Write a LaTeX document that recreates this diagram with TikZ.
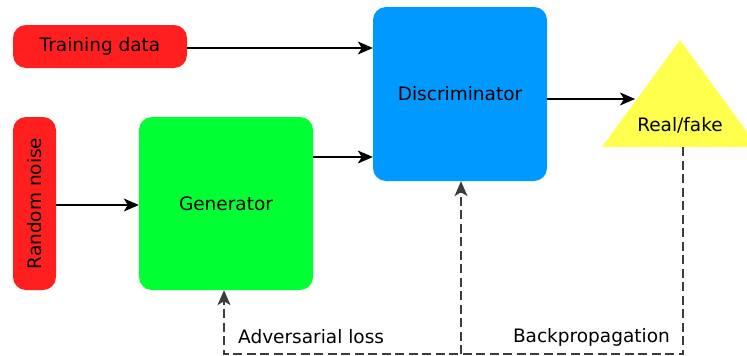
\documentclass[tikz,border=0pt]{standalone}
\usepackage{fontspec}
\setmainfont{DejaVu Sans}
\usetikzlibrary{arrows.meta,calc}

\definecolor{inred}{RGB}{255,31,31}
\definecolor{gengreen}{RGB}{0,255,51}
\definecolor{discblue}{RGB}{0,153,255}
\definecolor{outyellow}{RGB}{255,255,77}
\definecolor{lossgray}{RGB}{60,60,60}

\tikzset{
  block/.style={rounded corners=13pt, inner sep=0pt, text=black,
    font=\fontsize{18.5}{21}\selectfont},
  tip/.style={-{Stealth[length=15pt,width=13pt,inset=4pt]}},
  flow/.style={tip, line width=1.1pt, black},
  feedback/.style={tip, line width=1.3pt, lossgray, dash pattern=on 9pt off 4.5pt},
  caption/.style={inner sep=0pt, font=\fontsize{18.5}{21}\selectfont}
}

\begin{document}
\begin{tikzpicture}[x=1pt,y=-1pt]
  \clip (0,0) rectangle (747,356);

  % inputs
  \node[block, fill=inred, minimum width=174pt, minimum height=43pt]
    (train) at (100,46.5) {Training data};
  \node[block, fill=inred, minimum width=173pt, minimum height=43pt, rotate=90]
    (noise) at (34.5,203.5) {Random noise};

  % networks
  \node[block, fill=gengreen, minimum width=174pt, minimum height=173pt]
    (gen) at (226,203.5) {Generator};
  \node[block, fill=discblue, minimum width=174pt, minimum height=174pt]
    (disc) at (460,94) {Discriminator};

  % output
  \fill[outyellow] (602,147) -- (680,40) -- (758,147) -- cycle;
  \node[caption, anchor=base] (rf) at (680,131.5) {Real/fake};
  \coordinate (rfin) at (635,99);
  \coordinate (rfbase) at (683,147);

  % forward connections
  \draw[flow] (train.east |- 0,48) -- (disc.west |- 0,48);
  \draw[flow] (gen.east |- 0,157) -- (disc.west |- 0,157);
  \draw[flow] (noise.south |- 0,205) -- (gen.west |- 0,205);
  \draw[flow] (disc.east |- rfin) -- (rfin);

  % feedback loop
  \coordinate (corner) at (683,354);
  \coordinate (split) at (461,354);
  \coordinate (genfoot) at (224,354);
  \draw[feedback] (rfbase) -- (corner) -- (genfoot) -- (genfoot |- gen.south);
  \draw[feedback] (split) -- (split |- disc.south);

  \node[caption, anchor=base west] (adv) at (238,343) {Adversarial loss};
  \node[caption, anchor=base east] (bp) at (670,342) {Backpropagation};
\end{tikzpicture}
\end{document}
